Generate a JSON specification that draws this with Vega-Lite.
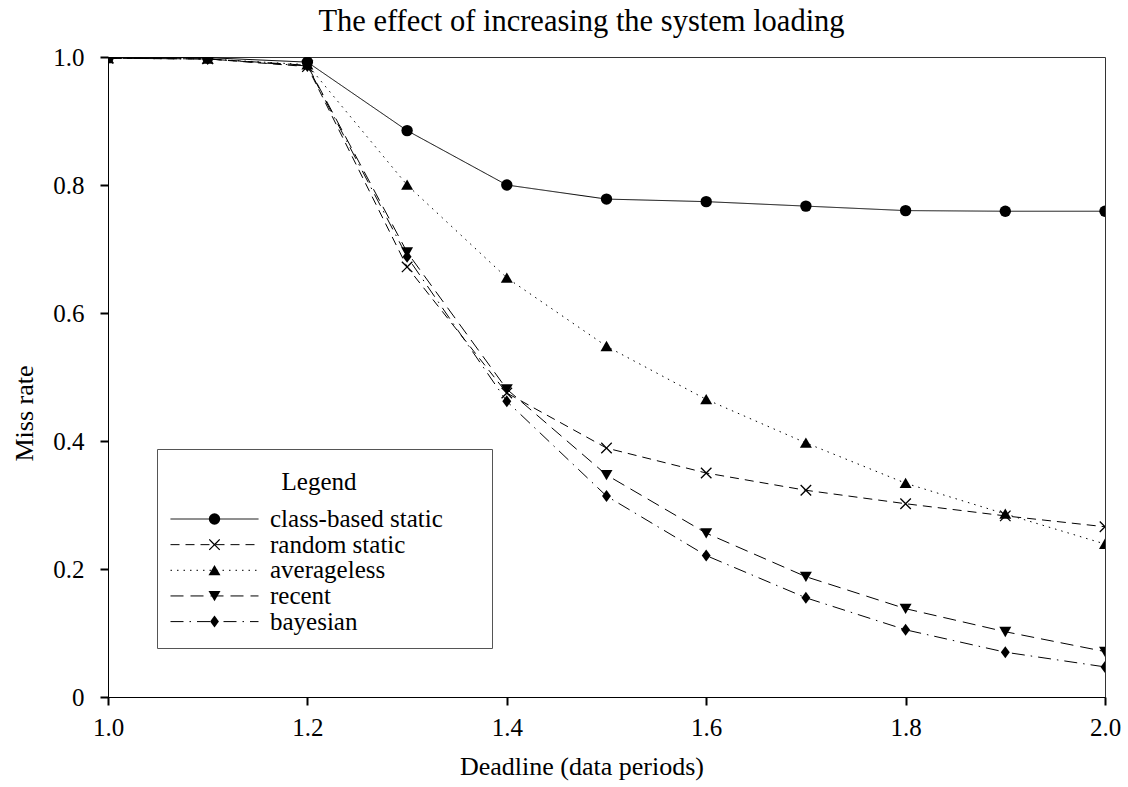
{
  "$schema": "https://vega.github.io/schema/vega-lite/v6.json",
  "width": 997,
  "height": 640,
  "autosize": {"type": "none"},
  "padding": {"left": 108, "top": 57, "right": 23, "bottom": 90},
  "background": "white",
  "title": {
    "text": "The effect of increasing the system loading",
    "font": "Liberation Serif",
    "fontSize": 30.5,
    "fontWeight": "normal",
    "color": "black",
    "anchor": "middle",
    "frame": "group",
    "baseline": "alphabetic",
    "dx": -25,
    "dy": 34,
    "offset": 18
  },
  "config": {
    "view": {"stroke": "#333", "strokeWidth": 1},
    "font": "Liberation Serif"
  },
  "data": {
    "values": [
      {"deadline": 1.0, "miss": 0.999, "series": "class-based static"},
      {"deadline": 1.1, "miss": 0.999, "series": "class-based static"},
      {"deadline": 1.2, "miss": 0.992, "series": "class-based static"},
      {"deadline": 1.3, "miss": 0.885, "series": "class-based static"},
      {"deadline": 1.4, "miss": 0.800, "series": "class-based static"},
      {"deadline": 1.5, "miss": 0.778, "series": "class-based static"},
      {"deadline": 1.6, "miss": 0.774, "series": "class-based static"},
      {"deadline": 1.7, "miss": 0.767, "series": "class-based static"},
      {"deadline": 1.8, "miss": 0.760, "series": "class-based static"},
      {"deadline": 1.9, "miss": 0.759, "series": "class-based static"},
      {"deadline": 2.0, "miss": 0.759, "series": "class-based static"},
      {"deadline": 1.0, "miss": 0.998, "series": "random static"},
      {"deadline": 1.1, "miss": 0.997, "series": "random static"},
      {"deadline": 1.2, "miss": 0.985, "series": "random static"},
      {"deadline": 1.3, "miss": 0.672, "series": "random static"},
      {"deadline": 1.4, "miss": 0.475, "series": "random static"},
      {"deadline": 1.5, "miss": 0.389, "series": "random static"},
      {"deadline": 1.6, "miss": 0.350, "series": "random static"},
      {"deadline": 1.7, "miss": 0.323, "series": "random static"},
      {"deadline": 1.8, "miss": 0.302, "series": "random static"},
      {"deadline": 1.9, "miss": 0.283, "series": "random static"},
      {"deadline": 2.0, "miss": 0.266, "series": "random static"},
      {"deadline": 1.0, "miss": 0.998, "series": "averageless"},
      {"deadline": 1.1, "miss": 0.997, "series": "averageless"},
      {"deadline": 1.2, "miss": 0.988, "series": "averageless"},
      {"deadline": 1.3, "miss": 0.800, "series": "averageless"},
      {"deadline": 1.4, "miss": 0.655, "series": "averageless"},
      {"deadline": 1.5, "miss": 0.548, "series": "averageless"},
      {"deadline": 1.6, "miss": 0.465, "series": "averageless"},
      {"deadline": 1.7, "miss": 0.397, "series": "averageless"},
      {"deadline": 1.8, "miss": 0.334, "series": "averageless"},
      {"deadline": 1.9, "miss": 0.286, "series": "averageless"},
      {"deadline": 2.0, "miss": 0.239, "series": "averageless"},
      {"deadline": 1.0, "miss": 0.998, "series": "recent"},
      {"deadline": 1.1, "miss": 0.997, "series": "recent"},
      {"deadline": 1.2, "miss": 0.987, "series": "recent"},
      {"deadline": 1.3, "miss": 0.695, "series": "recent"},
      {"deadline": 1.4, "miss": 0.481, "series": "recent"},
      {"deadline": 1.5, "miss": 0.347, "series": "recent"},
      {"deadline": 1.6, "miss": 0.256, "series": "recent"},
      {"deadline": 1.7, "miss": 0.188, "series": "recent"},
      {"deadline": 1.8, "miss": 0.138, "series": "recent"},
      {"deadline": 1.9, "miss": 0.102, "series": "recent"},
      {"deadline": 2.0, "miss": 0.071, "series": "recent"},
      {"deadline": 1.0, "miss": 0.998, "series": "bayesian"},
      {"deadline": 1.1, "miss": 0.997, "series": "bayesian"},
      {"deadline": 1.2, "miss": 0.986, "series": "bayesian"},
      {"deadline": 1.3, "miss": 0.688, "series": "bayesian"},
      {"deadline": 1.4, "miss": 0.462, "series": "bayesian"},
      {"deadline": 1.5, "miss": 0.314, "series": "bayesian"},
      {"deadline": 1.6, "miss": 0.221, "series": "bayesian"},
      {"deadline": 1.7, "miss": 0.155, "series": "bayesian"},
      {"deadline": 1.8, "miss": 0.105, "series": "bayesian"},
      {"deadline": 1.9, "miss": 0.070, "series": "bayesian"},
      {"deadline": 2.0, "miss": 0.047, "series": "bayesian"}
    ]
  },
  "encoding": {
    "x": {
      "field": "deadline",
      "type": "quantitative",
      "scale": {"domain": [1, 2], "nice": false, "zero": false},
      "axis": {
        "values": [1, 1.2, 1.4, 1.6, 1.8, 2],
        "format": ".1f",
        "grid": false,
        "labelFlush": false,
        "labelOverlap": false,
        "domainColor": "black",
        "domainWidth": 1,
        "tickColor": "black",
        "tickSize": 8,
        "tickWidth": 2,
        "labelFont": "Liberation Serif",
        "labelFontSize": 25,
        "labelColor": "black",
        "labelPadding": 10,
        "title": "Deadline (data periods)",
        "titleFont": "Liberation Serif",
        "titleFontSize": 26,
        "titleFontWeight": "normal",
        "titleColor": "black",
        "titleBaseline": "alphabetic",
        "titleX": 473.5,
        "titleY": 77
      }
    },
    "y": {
      "field": "miss",
      "type": "quantitative",
      "scale": {"domain": [0, 1], "nice": false},
      "axis": {
        "values": [0, 0.2, 0.4, 0.6, 0.8, 1.0],
        "labelExpr": "datum.value == 0 ? '0' : format(datum.value, '.1f')",
        "grid": false,
        "labelFlush": false,
        "labelOverlap": false,
        "domainColor": "black",
        "domainWidth": 1,
        "tickColor": "black",
        "tickSize": 8,
        "tickWidth": 2,
        "labelFont": "Liberation Serif",
        "labelFontSize": 25,
        "labelColor": "black",
        "labelPadding": 16,
        "title": "Miss rate",
        "titleFont": "Liberation Serif",
        "titleFontSize": 26,
        "titleFontWeight": "normal",
        "titleColor": "black",
        "titleBaseline": "alphabetic",
        "titleX": -76,
        "titleY": 356
      }
    }
  },
  "layer": [
    {
      "mark": {"type": "line", "color": "black", "strokeWidth": 1, "clip": true},
      "encoding": {
        "strokeDash": {
          "field": "series",
          "type": "nominal",
          "scale": {
            "domain": ["class-based static", "random static", "averageless", "recent", "bayesian"],
            "range": [[1, 0], [9, 6], [1.5, 5], [13, 7], [13, 6, 1.5, 6]]
          },
          "legend": {
            "title": "Legend",
            "orient": "bottom-left",
            "offset": 49,
            "direction": "vertical",
            "symbolType": "stroke",
            "symbolSize": 7744,
            "symbolStrokeColor": "black",
            "symbolStrokeWidth": 1,
            "strokeColor": "#555",
            "padding": 13,
            "titleFont": "Liberation Serif",
            "titleFontSize": 25,
            "titleFontWeight": "normal",
            "titleColor": "black",
            "titleAnchor": "middle",
            "titlePadding": 20,
            "labelFont": "Liberation Serif",
            "labelFontSize": 25,
            "labelColor": "black",
            "labelOffset": 11,
            "labelLimit": 400,
            "clipHeight": 24,
            "rowPadding": 0.65,
            "labelExpr": "datum.label + '\u2800\u2800'",
            "encode": {
              "title": {"update": {"dy": {"value": 8}, "dx": {"value": -5}}}
            }
          }
        }
      }
    },
    {
      "mark": {"type": "point", "filled": true, "fill": "black", "strokeWidth": 0, "opacity": 1, "size": 130, "clip": true},
      "encoding": {
        "shape": {
          "field": "series",
          "type": "nominal",
          "scale": {
            "domain": ["class-based static", "random static", "averageless", "recent", "bayesian"],
            "range": [
              "circle",
              "M-1,-0.84L-0.84,-1L0,-0.16L0.84,-1L1,-0.84L0.16,0L1,0.84L0.84,1L0,0.16L-0.84,1L-1,0.84L-0.16,0Z",
              "M0,-0.95L1.05,0.85L-1.05,0.85Z",
              "M0,0.95L1.05,-0.85L-1.05,-0.85Z",
              "M0,-1.05L0.78,0L0,1.05L-0.78,0Z"
            ]
          },
          "legend": {
            "title": null,
            "orient": "none",
            "legendX": 94,
            "legendY": 450,
            "direction": "vertical",
            "symbolSize": 130,
            "symbolFillColor": "black",
            "symbolStrokeWidth": 0,
            "symbolOpacity": 1,
            "padding": 0,
            "labelFont": "Liberation Serif",
            "labelFontSize": 25,
            "labelExpr": "''",
            "labelOffset": 0,
            "clipHeight": 24,
            "rowPadding": 0.65,
            "encode": {
              "symbols": {
                "update": {
                  "fill": {"value": "black"},
                  "opacity": {"value": 1}
                }
              }
            }
          }
        }
      }
    }
  ]
}
